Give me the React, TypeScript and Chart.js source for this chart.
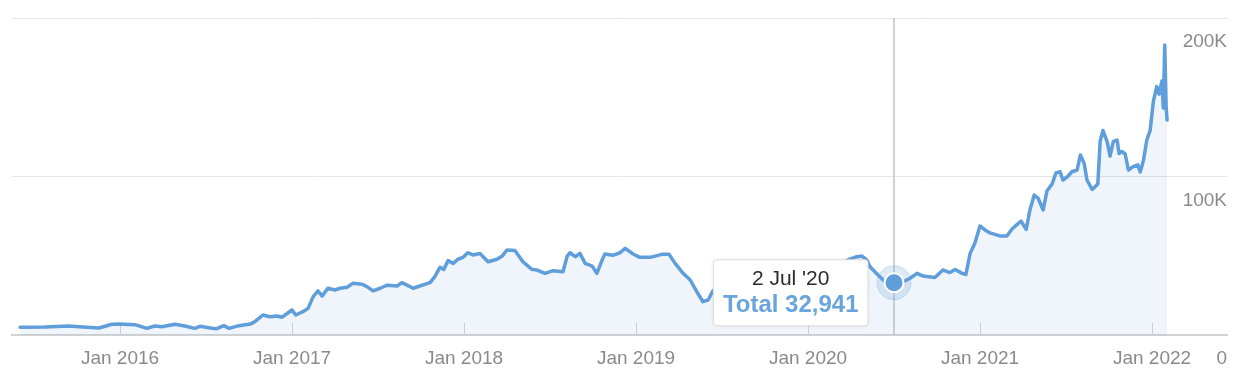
import { useEffect, useRef } from "react";
import { Chart, registerables } from "chart.js";

Chart.register(...registerables);

const DATES: string[] = [
  "2015-06-03", "2015-07-26", "2015-09-15", "2015-10-06", "2015-11-17", "2015-12-15", "2015-12-29",
  "2016-02-02", "2016-02-27", "2016-03-15", "2016-03-30", "2016-04-27", "2016-05-18", "2016-06-08",
  "2016-06-19", "2016-07-15", "2016-07-25", "2016-08-09", "2016-08-20", "2016-09-10", "2016-10-04",
  "2016-10-14", "2016-10-31", "2016-11-15", "2016-11-30", "2016-12-11", "2016-12-17",
  "2017-01-01", "2017-01-09", "2017-01-24", "2017-02-04", "2017-02-15", "2017-02-25", "2017-03-06",
  "2017-03-18", "2017-04-02", "2017-04-13", "2017-04-28", "2017-05-10", "2017-05-30", "2017-06-09",
  "2017-06-22", "2017-07-07", "2017-07-22", "2017-08-12", "2017-08-22", "2017-09-02", "2017-09-15",
  "2017-10-04", "2017-10-21", "2017-10-31", "2017-11-11", "2017-11-19", "2017-11-28", "2017-12-09",
  "2017-12-19", "2017-12-30",
  "2018-01-09", "2018-01-20", "2018-02-04", "2018-02-21", "2018-03-12", "2018-03-23", "2018-04-02",
  "2018-04-19", "2018-05-06", "2018-05-25", "2018-06-05", "2018-06-22", "2018-07-09", "2018-07-30",
  "2018-08-08", "2018-08-14", "2018-08-25", "2018-09-04", "2018-09-15", "2018-09-30", "2018-10-10",
  "2018-10-21", "2018-10-27", "2018-11-13", "2018-11-28", "2018-12-09", "2018-12-26",
  "2019-01-09", "2019-01-31", "2019-02-25", "2019-03-12", "2019-03-25", "2019-04-11", "2019-04-26",
  "2019-05-10", "2019-05-23", "2019-06-03", "2019-06-13", "2019-07-09", "2019-08-10", "2019-09-21",
  "2019-11-13",
  "2020-01-05", "2020-02-27", "2020-03-30", "2020-04-14", "2020-04-25", "2020-05-05", "2020-05-12",
  "2020-05-29", "2020-06-13", "2020-07-02", "2020-07-25", "2020-08-05", "2020-08-20", "2020-09-02",
  "2020-09-27", "2020-10-14", "2020-10-29", "2020-11-09", "2020-11-24", "2020-12-02", "2020-12-11",
  "2020-12-21",
  "2021-01-01", "2021-01-12", "2021-01-22", "2021-02-12", "2021-02-27", "2021-03-10", "2021-03-21",
  "2021-03-29", "2021-04-09", "2021-04-17", "2021-04-26", "2021-05-04", "2021-05-15", "2021-05-23",
  "2021-06-03", "2021-06-11", "2021-06-20", "2021-06-26", "2021-07-07", "2021-07-15", "2021-07-26",
  "2021-08-02", "2021-08-10", "2021-08-16", "2021-08-27", "2021-09-02", "2021-09-08", "2021-09-13",
  "2021-09-19", "2021-09-28", "2021-10-04", "2021-10-11", "2021-10-19", "2021-10-23", "2021-10-29",
  "2021-11-05", "2021-11-12", "2021-11-22", "2021-12-02", "2021-12-07", "2021-12-14", "2021-12-21",
  "2021-12-28",
  "2022-01-04", "2022-01-11", "2022-01-16", "2022-01-22", "2022-01-25", "2022-01-28", "2022-01-31",
  "2022-02-02",
];

const TOTAL: number[] = [
  4900, 5000, 5700, 5200, 4400, 6800, 6900,
  6500, 4200, 5700, 5200, 6800, 5700, 4200,
  5500, 4200, 4000, 5900, 4200, 5900, 6900,
  8400, 12600, 11500, 12000, 11200, 12600,
  15800, 12600, 14700, 16800, 24200, 27800, 24600,
  29500, 28400, 29500, 30100, 32600, 32000, 30500,
  27800, 29500, 31400, 30900, 33000, 31500, 29500,
  31400, 33000, 36800, 42700, 41400, 46900, 45200,
  47800, 49000,
  51900, 50500, 51400, 46200, 47800, 49800, 53600,
  53300, 46200, 41400, 41000, 38900, 40600, 39900,
  49800, 51900, 49400, 51500, 45200, 43500, 38900,
  47300, 51100, 50300, 51900, 54700, 51100,
  49000, 49000, 50900, 50900, 45200, 38900, 34700,
  27300, 21000, 22100, 27800, 34700, 39100, 42300,
  41000,
  42900, 43500, 47900, 49400, 49800, 47300, 43100,
  37900, 33600, 32941, 34100, 35800, 38900, 37200,
  36300, 41000, 39400, 41300, 38900, 38200, 51500,
  57900,
  68800, 66200, 64400, 62500, 62500, 66900, 69800,
  71900, 66600, 78900, 88300, 86400, 78900, 90800,
  95300, 102200, 103000, 97800, 100300, 103000, 104100,
  113600, 108300, 97800, 91800, 93600, 95300, 122400,
  129000, 121800, 112900, 122100, 123000, 114500, 115800,
  114200, 104100, 106200, 107300, 102800, 110400, 123000,
  129000,
  147600, 156700, 152000, 160200, 143200, 183000, 143800,
  135600,
];

const YEAR_TICKS: number[] = [2016, 2017, 2018, 2019, 2020, 2021, 2022];
const Y_TICKS: number[] = [0, 100000, 200000];
const Y_TICK_LABELS: string[] = ["0", "100K", "200K"];
const MONTHS: string[] = ["Jan", "Feb", "Mar", "Apr", "May", "Jun", "Jul", "Aug", "Sep", "Oct", "Nov", "Dec"];
const SERIES_NAME = "Total";
const HOVER_DATE = "2020-07-02";

const X_MIN = 2015.372;
const X_MAX = 2022.436;

const FONT = "'Liberation Sans', Arial, Helvetica, sans-serif";
const LINE_COLOR = "#5f9ddb";
const FILL_COLOR = "rgba(98,160,219,0.1)";
const LABEL_COLOR = "#8a8a8a";

function toYear(s: string): number {
  const [y, m, d] = s.split("-").map(Number);
  const start = Date.UTC(y, 0, 1);
  const end = Date.UTC(y + 1, 0, 1);
  return y + (Date.UTC(y, m - 1, d) - start) / (end - start);
}

function fmtDate(s: string): string {
  const [y, m, d] = s.split("-").map(Number);
  return `${d} ${MONTHS[m - 1]} '${String(y).slice(2)}`;
}

export default function App() {
  const ref = useRef<HTMLCanvasElement>(null);

  useEffect(() => {
    document.body.style.margin = "0";
    const canvas = ref.current;
    if (!canvas) return;
    const points = DATES.map((d, i) => ({ x: toYear(d), y: TOTAL[i] }));
    const hi = DATES.indexOf(HOVER_DATE);

    const overlay = {
      id: "overlay",
      beforeDatasetsDraw(chart: any) {
        const { ctx, chartArea, scales } = chart;
        const pt = chart.getDatasetMeta(0).data[hi];
        ctx.save();
        ctx.strokeStyle = "#d4d4d4";
        ctx.lineWidth = 1;
        for (const t of YEAR_TICKS) {
          const x = Math.round(scales.x.getPixelForValue(t)) + 0.5;
          ctx.beginPath();
          ctx.moveTo(x, chartArea.bottom - 12);
          ctx.lineTo(x, chartArea.bottom);
          ctx.stroke();
        }
        ctx.strokeStyle = "#c2c2c2";
        ctx.lineWidth = 1.5;
        ctx.beginPath();
        ctx.moveTo(pt.x, chartArea.top);
        ctx.lineTo(pt.x, chartArea.bottom);
        ctx.stroke();
        ctx.restore();
      },
      afterDatasetsDraw(chart: any) {
        const { ctx } = chart;
        const pt = chart.getDatasetMeta(0).data[hi];
        const px = pt.x;
        const py = pt.y;
        ctx.save();
        // halo
        ctx.beginPath();
        ctx.arc(px, py, 17, 0, Math.PI * 2);
        ctx.fillStyle = "rgba(98,160,219,0.22)";
        ctx.fill();
        ctx.strokeStyle = "rgba(98,160,219,0.28)";
        ctx.lineWidth = 1;
        ctx.stroke();
        // dot
        ctx.beginPath();
        ctx.arc(px, py, 9.5, 0, Math.PI * 2);
        ctx.fillStyle = LINE_COLOR;
        ctx.fill();
        ctx.strokeStyle = "#ffffff";
        ctx.lineWidth = 2;
        ctx.stroke();

        // tooltip box
        const dateText = fmtDate(DATES[hi]);
        const valueText = `${SERIES_NAME} ${TOTAL[hi].toLocaleString("en-US")}`;
        ctx.font = `21px ${FONT}`;
        const w1 = ctx.measureText(dateText).width;
        ctx.font = `bold 24px ${FONT}`;
        const w2 = ctx.measureText(valueText).width;
        const boxW = Math.max(w1, w2) + 19;
        const boxH = 66;
        const right = px - 26;
        const left = right - boxW;
        const top = py - 23;
        const r = 3;
        ctx.beginPath();
        ctx.moveTo(left + r, top);
        ctx.lineTo(right - r, top);
        ctx.quadraticCurveTo(right, top, right, top + r);
        ctx.lineTo(right, top + boxH - r);
        ctx.quadraticCurveTo(right, top + boxH, right - r, top + boxH);
        ctx.lineTo(left + r, top + boxH);
        ctx.quadraticCurveTo(left, top + boxH, left, top + boxH - r);
        ctx.lineTo(left, top + r);
        ctx.quadraticCurveTo(left, top, left + r, top);
        ctx.closePath();
        ctx.shadowColor = "rgba(0,0,0,0.08)";
        ctx.shadowBlur = 4;
        ctx.fillStyle = "#ffffff";
        ctx.fill();
        ctx.shadowColor = "transparent";
        ctx.shadowBlur = 0;
        ctx.strokeStyle = "#dcdcdc";
        ctx.lineWidth = 1;
        ctx.stroke();

        const cx = (left + right) / 2;
        ctx.textAlign = "center";
        ctx.textBaseline = "alphabetic";
        ctx.font = `21px ${FONT}`;
        ctx.fillStyle = "#2a2a2a";
        ctx.fillText(dateText, cx, top + 25);
        ctx.font = `bold 24px ${FONT}`;
        ctx.fillStyle = "#6aa4dc";
        ctx.fillText(valueText, cx, top + 52);
        ctx.restore();
      },
    };

    const chart = new Chart(canvas, {
      type: "line",
      data: {
        datasets: [
          {
            label: SERIES_NAME,
            data: points,
            borderColor: LINE_COLOR,
            backgroundColor: FILL_COLOR,
            borderWidth: 3.5,
            borderJoinStyle: "round",
            borderCapStyle: "round",
            fill: "origin",
            pointRadius: 0,
            pointHoverRadius: 0,
            tension: 0,
          },
        ],
      },
      options: {
        responsive: false,
        animation: false,
        events: [],
        layout: { padding: { left: 12, right: 14, top: 18, bottom: 0 } },
        plugins: { legend: { display: false }, tooltip: { enabled: false } },
        scales: {
          x: {
            type: "linear",
            min: X_MIN,
            max: X_MAX,
            grid: { display: false, drawTicks: false },
            border: { display: true, color: "#d2d2d2", width: 2 },
            afterBuildTicks: (scale: any) => {
              scale.ticks = YEAR_TICKS.map((v) => ({ value: v }));
            },
            afterFit: (scale: any) => {
              scale.height = 50;
            },
            ticks: {
              autoSkip: false,
              maxRotation: 0,
              padding: 12,
              color: LABEL_COLOR,
              font: { family: FONT, size: 19 },
              callback: (v: any) => `Jan ${v}`,
            },
          },
          y: {
            position: "right",
            min: 0,
            max: 200000,
            grid: { color: "#e6e6e6", lineWidth: 1, drawTicks: false },
            border: { display: false },
            afterBuildTicks: (scale: any) => {
              scale.ticks = Y_TICKS.map((v) => ({ value: v }));
            },
            afterFit: (scale: any) => {
              scale.width = 0;
            },
            ticks: {
              mirror: true,
              padding: 0,
              labelOffset: 24,
              color: LABEL_COLOR,
              font: { family: FONT, size: 19 },
              callback: (v: any) => Y_TICK_LABELS[Y_TICKS.indexOf(Number(v))],
            },
          },
        },
      },
      plugins: [overlay],
    } as any);

    return () => chart.destroy();
  }, []);

  return (
    <div style={{ position: "absolute", left: 0, top: 0, width: 1241, height: 385, background: "#fff" }}>
      <canvas ref={ref} width={1241} height={385} style={{ width: "1241px", height: "385px", display: "block" }} />
    </div>
  );
}
